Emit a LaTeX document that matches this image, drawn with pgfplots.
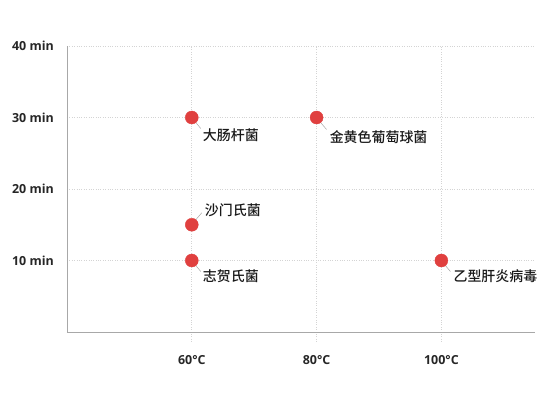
\documentclass[border=0pt]{standalone}
\usepackage{fontspec}
\usepackage{pgfplots}
\pgfplotsset{compat=1.18}
\setmainfont{Open Sans}
\newfontfamily\tickfont{Open Sans}[UprightFont=* Bold]
\newfontfamily\cjk{Noto Sans CJK SC}[UprightFont=* Medium]
\definecolor{ptred}{HTML}{E0403F}
\definecolor{axgray}{HTML}{A8A8A8}
\definecolor{grdgray}{HTML}{D4D4D4}
\begin{document}
\begin{tikzpicture}
\path[use as bounding box] (-67bp,-73bp) rectangle (483bp,332bp);
\begin{axis}[
  at={(0,0)}, anchor=south west,
  scale only axis, width=468bp, height=286bp,
  xmin=40, xmax=115, ymin=0, ymax=40,
  axis lines*=left,
  axis line style={axgray, line width=0.8bp},
  xtick={60,80,100}, xticklabels={60°C,80°C,100°C},
  ytick={10,20,30,40}, yticklabels={10 min,20 min,30 min,40 min},
  grid=major,
  grid style={dotted, grdgray, line width=0.8bp},
  /pgf/number format/assume math mode=true,
  tick label style={font=\tickfont\fontsize{12.5}{14}\selectfont, text=black!85},
  xtick pos=bottom, ytick pos=left,
  x tick style={dotted, grdgray, line width=0.8bp},
  y tick style={draw=none},
  xtick align=outside,
  major tick length=9bp,
  y tick label style={inner sep=0pt, anchor=east, xshift=-13bp},
  x tick label style={inner sep=0pt, anchor=north, yshift=-14bp},
  clip=false,
]
\addplot[only marks, mark=*, mark size=6.5bp, color=ptred, mark options={draw=ptred, fill=ptred}]
  coordinates {(60,30) (80,30) (60,15) (60,10) (100,10)};

\draw[gray!70, line width=0.5bp] (axis cs:60,30) ++(4bp,-5bp) -- ++(5bp,-6bp);
\draw[gray!70, line width=0.5bp] (axis cs:80,30) ++(4bp,-5bp) -- ++(6bp,-7bp);
\draw[gray!70, line width=0.5bp] (axis cs:60,15) ++(4bp,5bp) -- ++(6bp,7bp);
\draw[gray!70, line width=0.5bp] (axis cs:60,10) ++(4bp,-5bp) -- ++(5bp,-6bp);
\draw[gray!70, line width=0.5bp] (axis cs:100,10) ++(4bp,-5bp) -- ++(5bp,-6bp);

\node[anchor=west, inner sep=0pt, font=\cjk\fontsize{14}{16}\selectfont, text=black!90] at (axis cs:60,30) [xshift=11bp, yshift=-18bp] {大肠杆菌};
\node[anchor=west, inner sep=0pt, font=\cjk\fontsize{14}{16}\selectfont, text=black!90] at (axis cs:80,30) [xshift=13bp, yshift=-20bp] {金黄色葡萄球菌};
\node[anchor=west, inner sep=0pt, font=\cjk\fontsize{14}{16}\selectfont, text=black!90] at (axis cs:60,15) [xshift=13bp, yshift=15bp] {沙门氏菌};
\node[anchor=west, inner sep=0pt, font=\cjk\fontsize{14}{16}\selectfont, text=black!90] at (axis cs:60,10) [xshift=11bp, yshift=-16bp] {志贺氏菌};
\node[anchor=west, inner sep=0pt, font=\cjk\fontsize{14}{16}\selectfont, text=black!90] at (axis cs:100,10) [xshift=12bp, yshift=-16bp] {乙型肝炎病毒};
\end{axis}
\end{tikzpicture}
\end{document}
